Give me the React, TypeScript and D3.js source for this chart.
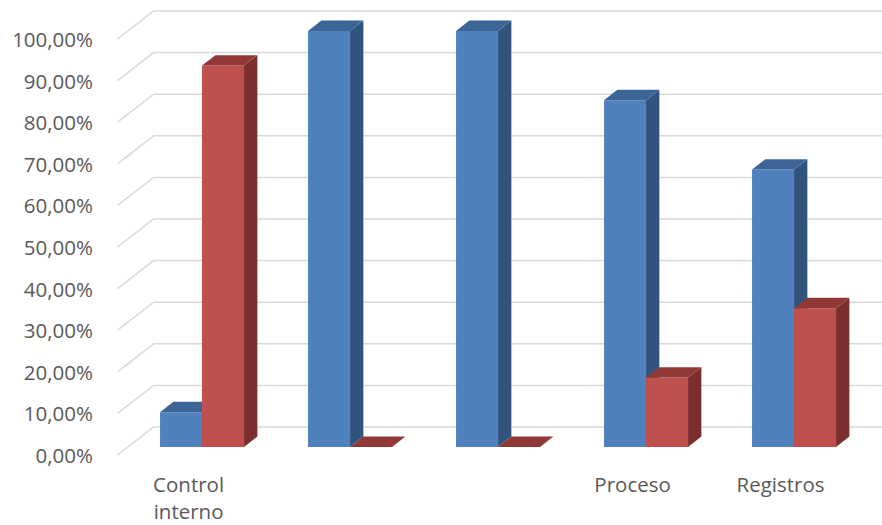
import React from "react";
import * as d3 from "d3";

const categories = ["Control interno", "", "", "Proceso", "Registros"];
const seriesBlue = [0.0833, 1.0, 1.0, 0.8333, 0.6667];
const seriesRed = [0.9167, 0.0, 0.0, 0.1667, 0.3333];
const tickValues = [0, 0.1, 0.2, 0.3, 0.4, 0.5, 0.6, 0.7, 0.8, 0.9, 1.0];

const W = 882;
const H = 525;
const DX = 36;
const DY = 28;
const Z0 = 0.29;
const Z1 = 0.66;

const blue = { front: "#4f81bd", top: "#3d6496", side: "#31547f" };
const red = { front: "#c0504d", top: "#8f3836", side: "#7b2e2d" };

const fmt = (v: number) => (v * 100).toFixed(2).replace(".", ",") + "%";

export default function App() {
  React.useEffect(() => {
    document.body.style.margin = "0";
  }, []);

  const x = d3
    .scaleBand<number>()
    .domain(categories.map((_, i) => i))
    .range([117.6, 857.6]);
  const y = d3.scaleLinear().domain([0, 1]).range([455, 39]);
  const barW = 42;

  const P = (px: number, v: number, z: number) => [px + z * DX, y(v) - z * DY];
  const poly = (pts: number[][]) => pts.map((p) => p.join(",")).join(" ");

  const bar = (x0: number, v: number, c: typeof blue, key: string) => {
    const x1 = x0 + barW;
    const front = [P(x0, 0, Z0), P(x1, 0, Z0), P(x1, v, Z0), P(x0, v, Z0)];
    const top = [P(x0, v, Z0), P(x1, v, Z0), P(x1, v, Z1), P(x0, v, Z1)];
    const side = [P(x1, 0, Z0), P(x1, 0, Z1), P(x1, v, Z1), P(x1, v, Z0)];
    return (
      <g key={key}>
        {v > 0 && <polygon points={poly(front)} fill={c.front} />}
        {v > 0 && <polygon points={poly(side)} fill={c.side} />}
        <polygon points={poly(top)} fill={c.top} />
      </g>
    );
  };

  const xL = x.range()[0];
  const fontFamily = "'Open Sans', 'Liberation Sans', sans-serif";

  return (
    <div style={{ position: "absolute", left: 0, top: 0 }}>
      <svg width={W} height={H} style={{ display: "block", background: "#fff" }}>
        <g>
          {tickValues.map((v) => (
            <path
              key={v}
              d={`M${xL},${y(v)} L${xL + DX},${y(v) - DY} L${W},${y(v) - DY}`}
              fill="none"
              stroke="#d9d9d9"
              strokeWidth={1.5}
            />
          ))}
        </g>
        <g>
          {tickValues.map((v) => (
            <text
              key={v}
              x={93}
              y={y(v)}
              textAnchor="end"
              dominantBaseline="central"
              fontFamily={fontFamily}
              fontSize={20.5}
              fill="#595959"
            >
              {fmt(v)}
            </text>
          ))}
        </g>
        <g>
          {categories.map((_, i) => {
            const cx = (x(i) as number) + x.bandwidth() / 2;
            return (
              <g key={i}>
                {bar(cx - barW, seriesBlue[i], blue, "b" + i)}
                {bar(cx, seriesRed[i], red, "r" + i)}
              </g>
            );
          })}
        </g>
        <g>
          {categories.map((c, i) => {
            const cx = (x(i) as number) + x.bandwidth() / 2 - 3;
            const lines = c ? c.split(" ") : [];
            return lines.map((ln, j) => (
              <text
                key={i + "-" + j}
                x={cx}
                y={484 + j * 27}
                textAnchor="middle"
                dominantBaseline="central"
                fontFamily={fontFamily}
                fontSize={20.5}
                fill="#595959"
              >
                {ln}
              </text>
            ));
          })}
        </g>
      </svg>
    </div>
  );
}
